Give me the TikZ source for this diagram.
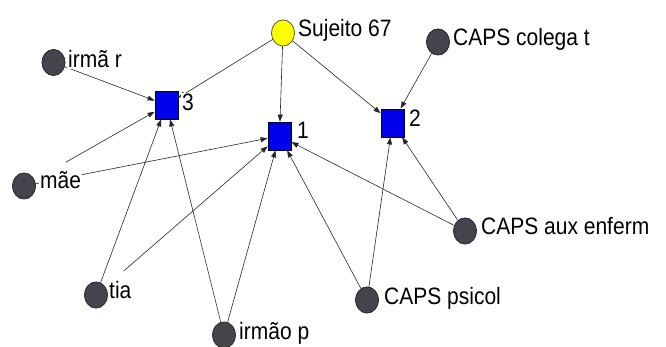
\documentclass[tikz,border=0pt]{standalone}
\usepackage{fontspec}
\setmainfont{Liberation Sans}
\usetikzlibrary{arrows.meta,shapes.geometric}
\definecolor{actor}{RGB}{68,68,76}
\definecolor{egoyellow}{RGB}{255,255,0}
\definecolor{evblue}{RGB}{0,0,235}
\newcommand{\lbltext}[1]{\scalebox{1}[1.13]{#1}}
\tikzset{
  actornode/.style={ellipse, minimum width=23pt, minimum height=26pt, inner sep=0pt, fill=actor, draw=black!85, line width=0.6pt},
  egonode/.style={ellipse, minimum width=23pt, minimum height=26pt, inner sep=0pt, fill=egoyellow, draw=black!70, line width=0.6pt},
  eventnode/.style={rectangle, minimum width=23pt, minimum height=28pt, inner sep=0pt, fill=evblue, draw=black, line width=0.8pt},
  lbl/.style={anchor=base west, inner sep=1pt, fill=white, text=black, font=\fontsize{21}{21}\selectfont},
  tie/.style={-{Triangle[length=7pt,width=5pt]}, draw=black!85, line width=0.6pt}
}
\begin{document}
\begin{tikzpicture}[x=1pt,y=-1pt]
\useasboundingbox (0,0) rectangle (666,347);
% nodes
\node[egonode] (S) at (283,33) {};
\node[eventnode] (q3) at (166.5,105) {};
\node[eventnode] (q1) at (279.5,136) {};
\node[eventnode] (q2) at (392.5,123) {};
\node[actornode] (ir) at (53.5,62.5) {};
\node[actornode] (mae) at (24,186) {};
\node[actornode] (tia) at (96,295) {};
\node[actornode] (ip) at (224,335) {};
\node[actornode] (cp) at (367,300) {};
\node[actornode] (ca) at (465,231) {};
\node[actornode] (ct) at (438,42) {};
% ties
\draw[tie] (S) -- (q3);
\draw[tie] (S) -- (q1);
\draw[tie] (S) -- (q2);
\draw[tie] (ir) -- (q3);
\draw[tie, shorten <=36pt] (mae) -- (q3);
\draw[tie] (mae) -- (q1);
\draw[tie] (tia) -- (q3);
\draw[tie, shorten <=24pt] (tia) -- (q1);
\draw[tie] (ip) -- (q3);
\draw[tie] (ip) -- (q1);
\draw[tie] (cp) -- (q1);
\draw[tie] (cp) -- (q2);
\draw[tie] (ca) -- (q1);
\draw[tie] (ca) -- (q2);
\draw[tie] (ct) -- (q2);
% labels
\node[lbl] (lS) at (297,37) {\lbltext{Sujeito 67}};
\node[lbl] (lct) at (452,46) {\lbltext{CAPS colega t}};
\node[lbl] (lir) at (67,68) {\lbltext{irmã r}};
\node[lbl] (l3) at (181,111) {\lbltext{3}};
\node[lbl] (l1) at (296,139) {\lbltext{1}};
\node[lbl] (l2) at (408,127) {\lbltext{2}};
\node[lbl] (lmae) at (39,189) {\lbltext{mãe}};
\node[lbl] (ltia) at (108,298) {\lbltext{tia}};
\node[lbl] (lip) at (238,339) {\lbltext{irmão p}};
\node[lbl] (lca) at (480,235) {\lbltext{CAPS aux enferm}};
\node[lbl] (lcp) at (383,304) {\lbltext{CAPS psicol}};
% redraw nodes on top
\node[egonode] at (S) {};
\node[eventnode] at (q3) {};
\node[eventnode] at (q1) {};
\node[eventnode] at (q2) {};
\node[actornode] at (ir) {};
\node[actornode] at (mae) {};
\node[actornode] at (tia) {};
\node[actornode] at (ip) {};
\node[actornode] at (cp) {};
\node[actornode] at (ca) {};
\node[actornode] at (ct) {};
\end{tikzpicture}
\end{document}
